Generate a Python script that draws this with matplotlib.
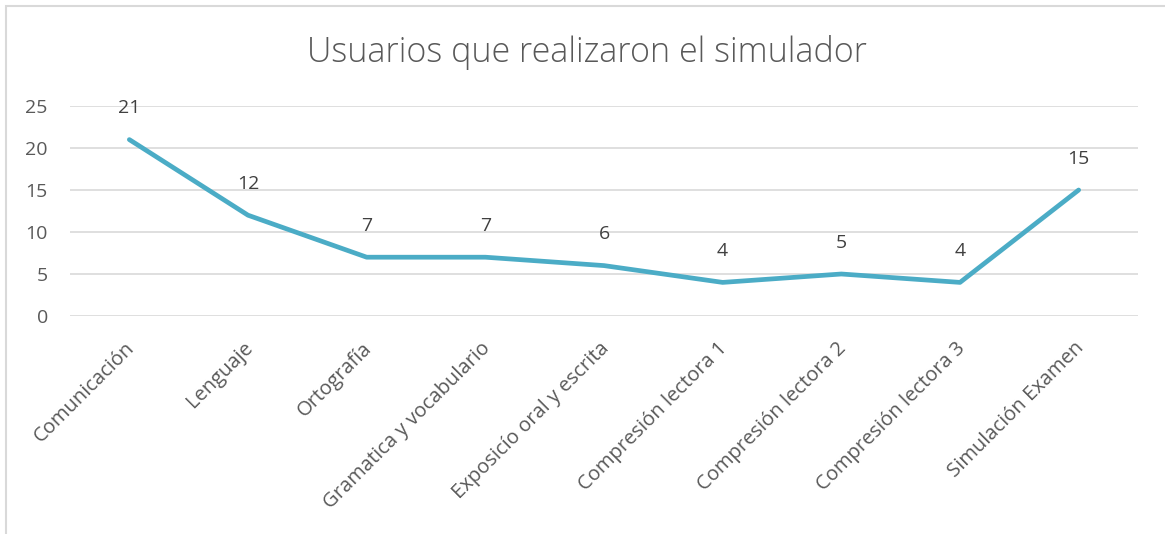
import matplotlib.pyplot as plt
import matplotlib.transforms as mtrans
from matplotlib.patches import Rectangle

# Users per simulator module
modulos = ['Comunicación', 'Lenguaje', 'Ortografía', 'Gramatica y vocabulario',
           'Exposicío oral y escrita', 'Compresión lectora 1', 'Compresión lectora 2',
           'Compresión lectora 3', 'Simulación Examen']
usuarios = [21, 12, 7, 7, 6, 4, 5, 4, 15]
yticks = [0, 5, 10, 15, 20, 25]

plt.rcParams['font.family'] = ['Open Sans', 'DejaVu Sans']
gris = '#595959'

fig = plt.figure(figsize=(11.65, 5.34), dpi=100)
ax = fig.add_axes([70 / 1165, 1 - 316 / 534, (1138 - 70) / 1165, (316 - 106) / 534])

x = list(range(len(modulos)))
ax.plot(x, usuarios, color='#4BACC6', linewidth=3.4, solid_capstyle='round',
        solid_joinstyle='round', zorder=3)
for xi, v in zip(x, usuarios):
    ax.annotate(str(v), (xi, v), xytext=(0, 16), textcoords='offset points',
                ha='center', va='bottom', fontsize=14, color='#404040')

ax.set_xlim(-0.5, len(modulos) - 0.5)
ax.set_ylim(0, 25)
ax.set_yticks(yticks)
ax.yaxis.grid(True, color='#d9d9d9', linewidth=1.2)
ax.set_axisbelow(True)
for s in ax.spines.values():
    s.set_visible(False)
ax.tick_params(axis='both', length=0, labelcolor=gris)
ax.tick_params(axis='y', pad=16, labelsize=14)
ax.set_xticks(x)
ax.set_xticklabels(modulos, rotation=45, ha='right', va='top', rotation_mode='anchor')
ax.tick_params(axis='x', pad=16, labelsize=14.5)
off = mtrans.ScaledTranslation(-5 / 100, 0, fig.dpi_scale_trans)
for lbl in ax.get_xticklabels():
    lbl.set_transform(lbl.get_transform() + off)

fig.text(587 / 1165, 1 - 52 / 534, 'Usuarios que realizaron el simulador',
         ha='center', va='center', fontsize=24.5, color=gris, fontweight='light')

# chart frame
fig.patches.append(Rectangle((6 / 1165, -0.1), 1.2, 1 - 6 / 534 + 0.1,
                             transform=fig.transFigure, fill=False,
                             edgecolor='#d9d9d9', linewidth=1.5))

fig.savefig('out.png', dpi=100, facecolor='white')
